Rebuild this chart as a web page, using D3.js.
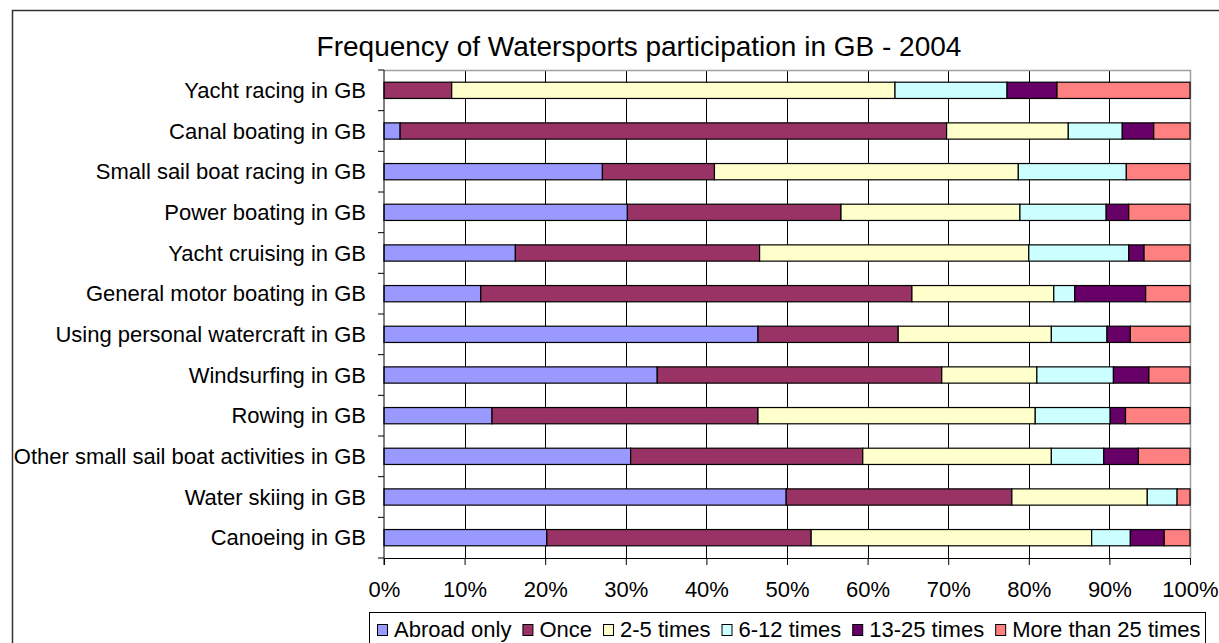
<!DOCTYPE html>
<html>
<head>
<meta charset="utf-8">
<script src="https://cdn.jsdelivr.net/npm/d3@7"></script>
<style>
  body { margin: 0; background: #fff; }
  svg text { font-family: "Liberation Sans", Arial, sans-serif; fill: #000; }
</style>
</head>
<body>
<svg></svg>
<script>
var categories = [
  "Yacht racing in GB", "Canal boating in GB", "Small sail boat racing in GB",
  "Power boating in GB", "Yacht cruising in GB", "General motor boating in GB",
  "Using personal watercraft in GB", "Windsurfing in GB", "Rowing in GB",
  "Other small sail boat activities in GB", "Water skiing in GB", "Canoeing in GB"
];
var seriesNames = ["Abroad only", "Once", "2-5 times", "6-12 times", "13-25 times", "More than 25 times"];
var colors = ["#9999ff", "#993366", "#ffffcc", "#ccffff", "#660066", "#ff8080"];

// percentages per category, same order as seriesNames
var abroadOnly = [0, 2.0, 27.1, 30.2, 16.3, 12.0, 46.4, 33.9, 13.4, 30.6, 49.9, 20.2];
var once       = [8.4, 67.8, 13.9, 26.5, 30.3, 53.5, 17.4, 35.3, 33.0, 28.8, 28.0, 32.8];
var times2to5  = [55.0, 15.1, 37.7, 22.2, 33.4, 17.6, 19.0, 11.8, 34.4, 23.4, 16.8, 34.8];
var times6to12 = [13.9, 6.7, 13.4, 10.7, 12.4, 2.6, 6.9, 9.5, 9.3, 6.5, 3.7, 4.8];
var times13to25 = [6.2, 3.9, 0, 2.8, 1.9, 8.8, 2.9, 4.4, 1.9, 4.3, 0, 4.2];
var moreThan25 = [16.5, 4.5, 7.9, 7.6, 5.7, 5.5, 7.4, 5.1, 8.0, 6.4, 1.6, 3.2];

var tickValues = [0, 0.1, 0.2, 0.3, 0.4, 0.5, 0.6, 0.7, 0.8, 0.9, 1];

var width = 1219;
var height = 643;
var margin = {top: 70, left: 384, right: 1190, bottom: 558};
var fontSize = 22;

var seriesValues = [abroadOnly, once, times2to5, times6to12, times13to25, moreThan25];
var rows = categories.map(function(c, i) {
  var row = {category: c};
  var total = 0;
  seriesNames.forEach(function(s, j) { total += seriesValues[j][i]; });
  seriesNames.forEach(function(s, j) { row[s] = seriesValues[j][i] / total; });
  return row;
});

var stacked = d3.stack().keys(seriesNames)(rows);

var svg = d3.select('svg')
    .attr('width', width)
    .attr('height', height);

// outer chart frame
svg.append('rect')
  .attr('x', 12.5).attr('y', 10.5)
  .attr('width', width).attr('height', height)
  .attr('fill', 'none')
  .attr('stroke', '#333')
  .attr('stroke-width', 1.5);

var x = d3.scaleLinear().domain([0, 1]).range([margin.left, margin.right]);
var y = d3.scaleBand().domain(categories).range([margin.top, margin.bottom])
          .paddingInner(0.6).paddingOuter(0.3);

// gridlines
svg.append('g')
  .selectAll('line')
  .data(tickValues.slice(1, -1))
  .enter()
  .append('line')
    .attr('x1', d => Math.round(x(d)) + 0.5)
    .attr('x2', d => Math.round(x(d)) + 0.5)
    .attr('y1', margin.top)
    .attr('y2', margin.bottom)
    .attr('stroke', '#000')
    .attr('stroke-width', 1);

// plot area border (top / right)
svg.append('path')
  .attr('d', 'M' + margin.left + ',' + (margin.top + 0.5) + 'H' + (margin.right + 0.5) + 'V' + margin.bottom)
  .attr('fill', 'none')
  .attr('stroke', '#a0a0a0')
  .attr('stroke-width', 1.5);

// bars
svg.append('g')
  .selectAll('g')
  .data(stacked)
  .enter()
  .append('g')
    .attr('fill', (d, i) => colors[i])
  .selectAll('rect')
  .data(d => d.filter(p => p[1] - p[0] > 0))
  .enter()
  .append('rect')
    .attr('x', d => x(d[0]))
    .attr('y', d => y(d.data.category))
    .attr('width', d => x(d[1]) - x(d[0]))
    .attr('height', y.bandwidth())
    .attr('stroke', '#000')
    .attr('stroke-width', 1.2);

// x axis
var xAxis = svg.append('g')
  .attr('transform', 'translate(0,' + margin.bottom + ')')
  .call(d3.axisBottom(x).tickValues(tickValues).tickFormat(d3.format('.0%')).tickSize(7).tickSizeOuter(0));
xAxis.select('.domain').attr('stroke', '#000');
xAxis.selectAll('.tick line').attr('stroke', '#000');
xAxis.selectAll('text')
  .attr('font-size', fontSize)
  .attr('dy', null)
  .attr('y', 39);

// y axis line with ticks at band boundaries
svg.append('line')
  .attr('x1', margin.left).attr('x2', margin.left)
  .attr('y1', margin.top).attr('y2', margin.bottom + 7)
  .attr('stroke', '#000');
var step = y.step();
svg.append('g')
  .selectAll('line')
  .data(d3.range(categories.length + 1))
  .enter()
  .append('line')
    .attr('x1', margin.left - 6)
    .attr('x2', margin.left)
    .attr('y1', d => margin.top + d * step)
    .attr('y2', d => margin.top + d * step)
    .attr('stroke', '#000');

svg.append('g')
  .selectAll('text')
  .data(categories)
  .enter()
  .append('text')
    .attr('x', 366)
    .attr('y', d => y(d) + y.bandwidth() / 2)
    .attr('dy', '0.35em')
    .attr('text-anchor', 'end')
    .attr('font-size', fontSize)
    .text(d => d);

// title
svg.append('text')
  .attr('x', 639)
  .attr('y', 56)
  .attr('text-anchor', 'middle')
  .attr('font-size', 28)
  .text('Frequency of Watersports participation in GB - 2004');

// legend
var legend = svg.append('g');
legend.append('rect')
  .attr('x', 369.5).attr('y', 612.5)
  .attr('width', 836).attr('height', 40)
  .attr('fill', '#fff')
  .attr('stroke', '#000');
var lx = 377;
seriesNames.forEach(function(s, i) {
  legend.append('rect')
    .attr('x', lx + 0.5).attr('y', 624.5)
    .attr('width', 10).attr('height', 11)
    .attr('fill', colors[i])
    .attr('stroke', '#000');
  var t = legend.append('text')
    .attr('x', lx + 17)
    .attr('y', 637)
    .attr('font-size', fontSize)
    .text(s);
  lx = lx + 17 + t.node().getComputedTextLength() + 11;
});
</script>
</body>
</html>
